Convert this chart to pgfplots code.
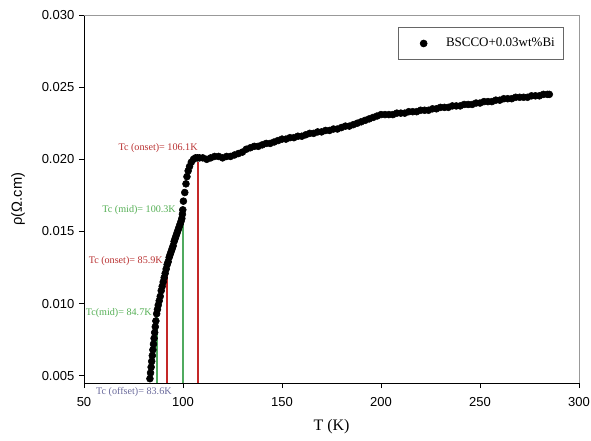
\documentclass[border=0pt]{standalone}
\usepackage{fontspec}
\setmainfont{Liberation Serif}
\newfontfamily\arial{Liberation Sans}
\usepackage{pgfplots}
\pgfplotsset{compat=1.18}
\definecolor{tcred}{RGB}{196,40,40}
\definecolor{tcredtext}{RGB}{185,50,50}
\definecolor{tcgreen}{RGB}{80,170,95}
\definecolor{tcgreentext}{RGB}{85,175,85}
\definecolor{tcblue}{RGB}{105,105,155}
\begin{document}
\begin{tikzpicture}
\useasboundingbox (-63pt,-42.75pt) rectangle (380.25pt,287.25pt);
\begin{axis}[
  at={(0,0)}, anchor=south west, scale only axis,
  width=371.25pt, height=276pt,
  xmin=50, xmax=300, ymin=0.0045, ymax=0.030,
  axis lines=left, axis line style={-, line width=0.6pt, black},
  xtick={50,100,150,200,250,300},
  ytick={0.005,0.010,0.015,0.020,0.025,0.030},
  tick align=outside, major tick length=3.75pt,
  tick style={black, line width=0.6pt},
  scaled y ticks=false,
  yticklabel style={/pgf/number format/.cd, fixed, fixed zerofill, precision=3},
  xticklabel style={yshift=-3.5pt},
  /pgf/number format/assume math mode=true,
  ticklabel style={font=\arial\fontsize{9.75}{11}\selectfont},
  xlabel={T (K)},
  ylabel={ρ(Ω.cm)},
  xlabel style={font=\fontsize{12}{14}\selectfont, at={(axis description cs:0.5,-0.1196)}, anchor=center},
  ylabel style={font=\arial\fontsize{11}{13}\selectfont, at={(axis description cs:-0.1333,0.5)}, anchor=center},
  clip=false,
  legend style={at={(axis description cs:0.968,0.967)}, anchor=north east,
    draw=gray!80!black, line width=0.5pt, inner xsep=4pt, inner ysep=6pt,
    font=\fontsize{9.75}{11}\selectfont,
    /tikz/every odd column/.append style={column sep=0pt}},
  legend image code/.code={\path[draw=none] (0pt,0pt) -- (29.5pt,0pt); \draw[#1, only marks] plot coordinates {(14.75pt,0pt)};},
]
\addplot[only marks, mark=*, mark size=2.6pt, black, mark options={fill=black}] coordinates {
(83.3,0.0048)(83.6,0.0052)(83.9,0.0056)(84.2,0.0060)(84.5,0.0064)(84.8,0.0068)
(85.1,0.0072)(85.4,0.0076)(85.7,0.0080)(86.0,0.0084)(86.3,0.0088)(86.7,0.0093)
(87.1,0.0096)(87.5,0.0099)(88.0,0.0102)(88.5,0.0105)(89.0,0.0109)(89.5,0.0112)
(90.0,0.0115)(90.5,0.0118)(91.0,0.0121)(91.5,0.0124)(92.0,0.0127)(92.5,0.0129)
(93.0,0.0132)(93.5,0.0134)(94.0,0.0136)(94.5,0.0138)(95.0,0.0140)(95.5,0.0143)
(96.0,0.0145)(96.5,0.0147)(97.0,0.0149)(97.5,0.0151)(98.0,0.0153)(98.5,0.0155)
(99.0,0.0157)(99.4,0.0159)(99.7,0.0162)(99.9,0.0165)
(100.2,0.0171)(100.9,0.0177)(101.5,0.0183)(102.0,0.0188)(102.6,0.0192)
(103.3,0.0195)(104.2,0.0198)(105.3,0.0200)(106.3,0.0201)(107.3,0.0201)
(108.3,0.0201)(110,0.0201)(112,0.0200)(114,0.0201)(116,0.0202)(118,0.0202)
(120,0.0201)(122,0.0202)(124,0.0202)(126,0.0203)(128,0.0204)(130,0.0205)
(132,0.0207)(134,0.0208)(136,0.0209)(138,0.0209)(140,0.0210)(142,0.0211)
(144,0.0211)(146,0.0212)(148,0.0213)(150,0.0214)(152,0.0214)(154,0.0215)
(156,0.0215)(158,0.0216)(160,0.0216)(162,0.0217)(164,0.0218)(166,0.0218)
(168,0.0219)(170,0.0219)(172,0.0220)(174,0.0220)(176,0.0221)(178,0.0221)
(180,0.0222)(182,0.0223)(184,0.0223)(186,0.0224)(188,0.0225)(190,0.0226)
(192,0.0227)(194,0.0228)(196,0.0229)(198,0.0230)(200,0.0231)(202,0.0231)
(204,0.0231)(206,0.0231)(208,0.0232)(210,0.0232)(212,0.0232)(214,0.0233)
(216,0.0233)(218,0.0233)(220,0.0234)(222,0.0234)(224,0.0234)(226,0.0235)
(228,0.0235)(230,0.0236)(232,0.0236)(234,0.0236)(236,0.0237)(238,0.0237)
(240,0.0237)(242,0.0238)(244,0.0238)(246,0.0238)(248,0.0239)(250,0.0239)
(252,0.0240)(254,0.0240)(256,0.0240)(258,0.0241)(260,0.0241)(262,0.0242)
(264,0.0242)(266,0.0242)(268,0.0243)(270,0.0243)(272,0.0243)(274,0.0243)
(276,0.0244)(278,0.0244)(280,0.0244)(282,0.0245)(284,0.0245)(285,0.0245)
};
\addlegendentry{BSCCO+0.03wt\%Bi}
\addplot[tcgreen, line width=1.5pt, forget plot] coordinates {(86.7,0.0045)(86.7,0.0092)};
\addplot[tcred, line width=1.5pt, forget plot] coordinates {(92.1,0.0045)(92.1,0.0126)};
\addplot[tcgreen, line width=1.5pt, forget plot] coordinates {(99.85,0.0045)(99.85,0.0165)};
\addplot[tcred, line width=1.5pt, forget plot] coordinates {(107.7,0.0045)(107.7,0.0198)};
\draw[gray!80, line width=0.6pt] (rel axis cs:0,1) -- (rel axis cs:1,1) -- (rel axis cs:1,0);
\begin{scope}[every node/.style={inner sep=0pt, anchor=east, font=\fontsize{7.6}{9}\selectfont}]
\node[text=tcredtext] at (axis cs:107.5,0.0208) {Tc (onset)= 106.1K};
\node[text=tcgreentext] at (axis cs:96.5,0.0165) {Tc (mid)= 100.3K};
\node[text=tcredtext] at (axis cs:89.9,0.01296) {Tc (onset)= 85.9K};
\node[text=tcgreentext] at (axis cs:84.3,0.00936) {Tc(mid)= 84.7K};
\node[text=tcblue] at (axis cs:94.4,0.0039) {Tc (offset)= 83.6K};
\end{scope}
\end{axis}
\end{tikzpicture}
\end{document}
